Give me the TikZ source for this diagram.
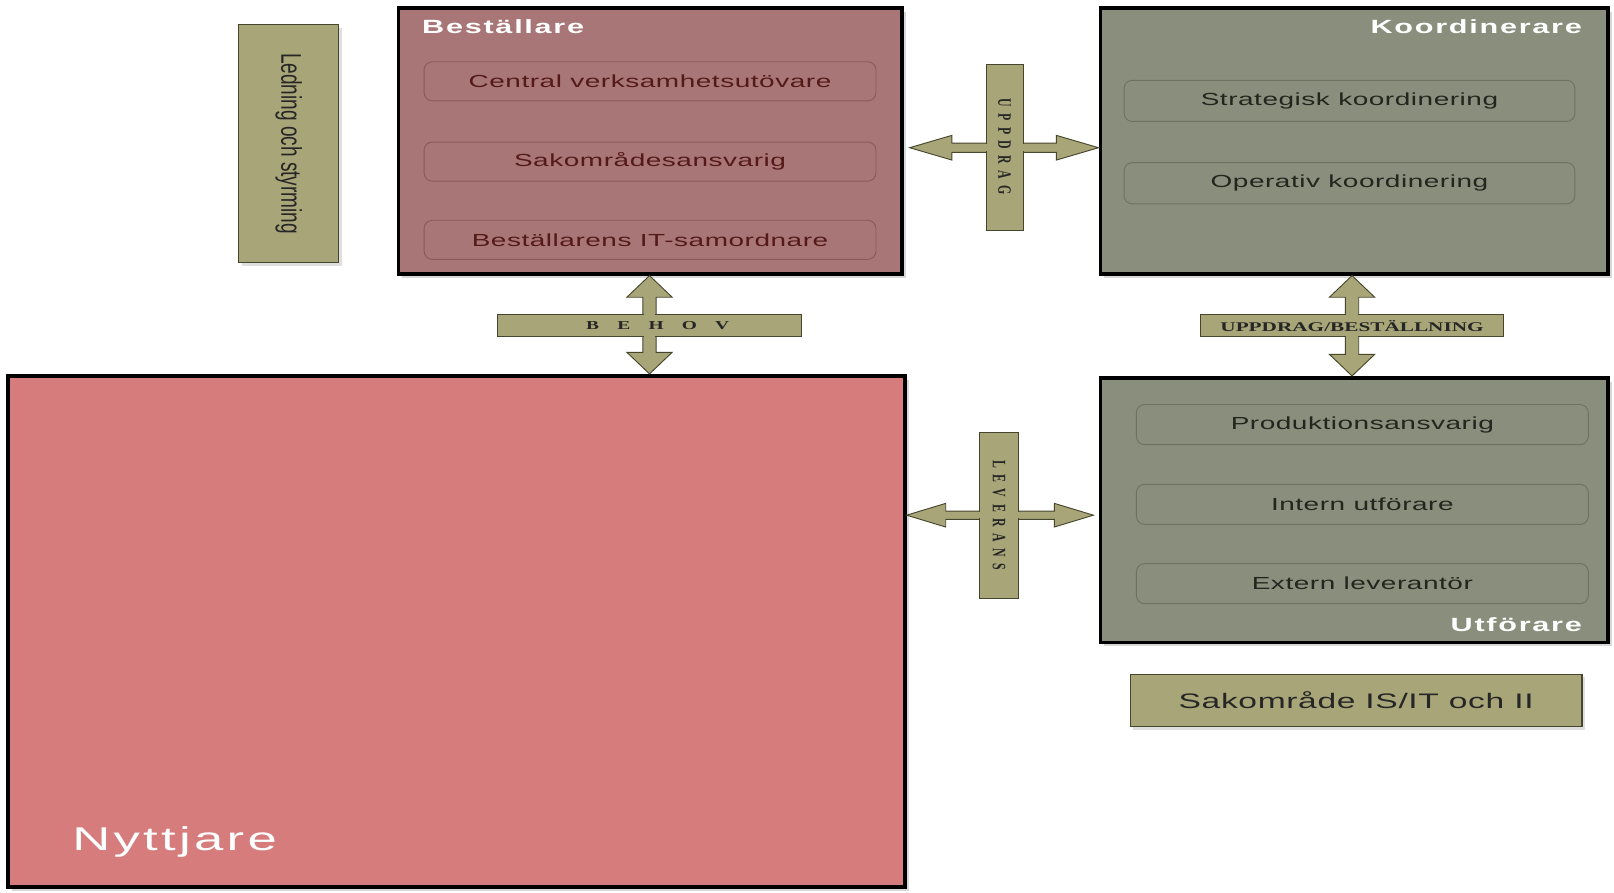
\documentclass[tikz,border=0pt]{standalone}
\usepackage{fontspec}
\usepackage{graphicx}
\usetikzlibrary{shadows,calc}
\setmainfont{Liberation Sans}
\newfontfamily\wsans[FakeStretch=1.6,LetterSpace=3]{Liberation Sans}
\newfontfamily\wtitle[FakeStretch=1.6,LetterSpace=9]{Liberation Sans}
\newfontfamily\wbig[FakeStretch=1.6,LetterSpace=10]{Liberation Sans}
\newfontfamily\wbeh[FakeStretch=1.6,LetterSpace=150]{Liberation Serif}
\newfontfamily\wserif[FakeStretch=1.6]{Liberation Serif}
\newfontfamily\vserif[LetterSpace=55]{Liberation Serif}
\newfontfamily\plainsans{Liberation Sans}

\definecolor{bestfill}{RGB}{168,118,118}
\definecolor{bestline}{RGB}{140,88,88}
\definecolor{besttext}{RGB}{85,25,25}
\definecolor{koofill}{RGB}{138,142,124}
\definecolor{kooline}{RGB}{110,114,96}
\definecolor{kootext}{RGB}{35,37,30}
\definecolor{nytfill}{RGB}{214,124,124}
\definecolor{olivefill}{RGB}{168,166,120}
\definecolor{oliveline}{RGB}{70,70,45}

\newcommand\hblock[5]{%
  \draw[blockarrow] let \p1=(#1), \p2=(#2) in
    (\x1,\y1) -- (\x1+#5,\y1+#4) -- (\x1+#5,\y1+#3) -- (\x2-#5,\y1+#3) -- (\x2-#5,\y1+#4)
    -- (\x2,\y1) -- (\x2-#5,\y1-#4) -- (\x2-#5,\y1-#3) -- (\x1+#5,\y1-#3) -- (\x1+#5,\y1-#4) -- cycle;}
\newcommand\vblock[5]{%
  \draw[blockarrow] let \p1=(#1), \p2=(#2) in
    (\x1,\y1) -- (\x1+#4,\y1-#5) -- (\x1+#3,\y1-#5) -- (\x1+#3,\y2+#5) -- (\x1+#4,\y2+#5)
    -- (\x1,\y2) -- (\x1-#4,\y2+#5) -- (\x1-#3,\y2+#5) -- (\x1-#3,\y1-#5) -- (\x1-#4,\y1-#5) -- cycle;}

\tikzset{
  bigbox/.style={draw=black, line width=3.5pt, inner sep=0pt,
    drop shadow={shadow xshift=4pt, shadow yshift=-4pt, opacity=0.3}},
  innerbox/.style={rounded corners=8pt, line width=0.9pt, inner sep=0pt,
    minimum height=38pt, font=\wsans\fontsize{17}{20}\selectfont},
  bestinner/.style={innerbox, draw=bestline, fill=bestfill, text=besttext, minimum width=439pt},
  kooinner/.style={innerbox, draw=kooline, fill=koofill, text=kootext, minimum width=438pt},
  utfinner/.style={innerbox, draw=kooline, fill=koofill, text=kootext, minimum width=439pt},
  titletext/.style={text=white, inner sep=0pt, font=\wtitle\bfseries\fontsize{18.6}{21}\selectfont},
  olivebox/.style={draw=oliveline, line width=1.2pt, fill=olivefill, inner sep=0pt,
    drop shadow={shadow xshift=3pt, shadow yshift=-3pt, opacity=0.25}},
  bar/.style={draw=oliveline, line width=1pt, fill=olivefill, inner sep=0pt},
  blockarrow/.style={draw=oliveline, line width=0.9pt, fill=olivefill},
  barlabel/.style={inner sep=0pt, text=black!85},
}

\begin{document}
\begin{tikzpicture}[x=1pt, y=-1pt]
\path[fill=white] (0,0) rectangle (1568,866.6);
\useasboundingbox (0,0) rectangle (1568,866.6);

% main boxes
\node[bigbox, fill=bestfill, minimum width=489pt, minimum height=258pt] (bes) at (631.5,137) {};
\node[bigbox, fill=koofill, minimum width=493pt, minimum height=258pt] (koo) at (1315.5,137) {};
\node[bigbox, fill=koofill, minimum width=493pt, minimum height=257pt] (utf) at (1315.5,495.5) {};
\node[bigbox, fill=nytfill, minimum width=871pt, minimum height=497pt] (nyt) at (443.5,613.5) {};

% side boxes
\node[olivebox, minimum width=97pt, minimum height=231pt] (led) at (280.5,139.5)
  {\rotatebox{-90}{\scalebox{1}[1.5]{\plainsans\fontsize{18.5}{22}\selectfont\color{black!85}Ledning och styrming}}};
\node[olivebox, minimum width=439pt, minimum height=51pt, font=\wsans\fontsize{20.4}{24}\selectfont, text=black!85] (sak) at (1317.5,680.5) {Sakområde IS/IT och II};

% titles
\node[titletext, anchor=west] (bestitle) at (410,26) {Beställare};
\node[titletext, anchor=east] (kootitle) at (1537,26) {Koordinerare};
\node[titletext, anchor=east] (utftitle) at (1537,607) {Utförare};
\node[text=white, inner sep=0pt, anchor=west, font=\wbig\fontsize{32}{37}\selectfont] (nyttitle) at (70,818) {Nyttjare};

% inner boxes
\node[bestinner] (b1) at (631.5,79) {Central verksamhetsutövare};
\node[bestinner] (b2) at (631.5,157) {Sakområdesansvarig};
\node[bestinner] (b3) at (631.5,233) {Beställarens IT-samordnare};
\node[kooinner, minimum height=40pt] (k1) at (1311,98) {Strategisk koordinering};
\node[kooinner, minimum height=40pt] (k2) at (1311,178) {Operativ koordinering};
\node[utfinner, minimum height=39pt] (u1) at (1323.5,412.5) {Produktionsansvarig};
\node[utfinner, minimum height=39pt] (u2) at (1323.5,490) {Intern utförare};
\node[utfinner, minimum height=39pt] (u3) at (1323.5,567) {Extern leverantör};

% label bars (positions)
\coordinate (uppc) at (976,143.5);
\coordinate (levc) at (970.5,500.5);
\coordinate (behc) at (631,316.5);
\coordinate (ubc) at (1313.5,316.5);

% UPPDRAG
\hblock{$(bes.east |- uppc)+(6,0)$}{koo.west |- uppc}{4.5pt}{12pt}{41pt}
\node[bar, minimum width=36pt, minimum height=161pt] (uppbar) at (uppc) {};
\fill[olivefill] ($(uppbar.west)+(-1,-3.6)$) rectangle ($(uppbar.east)+(1,3.6)$);
\node[barlabel] (upptxt) at ($(uppc)+(0,-1)$) {\rotatebox{-90}{\scalebox{1}[1.6]{\vserif\bfseries\fontsize{11.5}{13}\selectfont UPPDRAG}}};

% LEVERANS
\hblock{nyt.east |- levc}{$(utf.west |- levc)+(-5,0)$}{4pt}{11.5pt}{38pt}
\node[bar, minimum width=37pt, minimum height=161pt] (levbar) at (levc) {};
\fill[olivefill] ($(levbar.west)+(-1,-3.2)$) rectangle ($(levbar.east)+(1,3.2)$);
\node[barlabel] (levtxt) at (levc) {\rotatebox{-90}{\scalebox{1}[1.6]{\vserif\bfseries\fontsize{11.5}{13}\selectfont LEVERANS}}};

% BEHOV
\vblock{bes.south -| behc}{nyt.north -| behc}{6.5pt}{22pt}{21pt}
\node[bar, minimum width=296pt, minimum height=21pt] (behbar) at (behc) {};
\fill[olivefill] ($(behbar.north)+(-5.7,-1)$) rectangle ($(behbar.south)+(5.7,1)$);
\node[barlabel, font=\wbeh\bfseries\fontsize{11.8}{13}\selectfont] (behtxt) at ($(behc)+(8,0)$) {BEHOV};

% UPPDRAG/BESTÄLLNING
\vblock{koo.south -| ubc}{utf.north -| ubc}{6.5pt}{22pt}{21pt}
\node[bar, minimum width=295pt, minimum height=21pt] (ubbar) at (ubc) {};
\fill[olivefill] ($(ubbar.north)+(-5.7,-1)$) rectangle ($(ubbar.south)+(5.7,1)$);
\node[barlabel, font=\wserif\bfseries\fontsize{12.9}{14}\selectfont] (ubtxt) at (ubc) {UPPDRAG/BESTÄLLNING};
\end{tikzpicture}
\end{document}
